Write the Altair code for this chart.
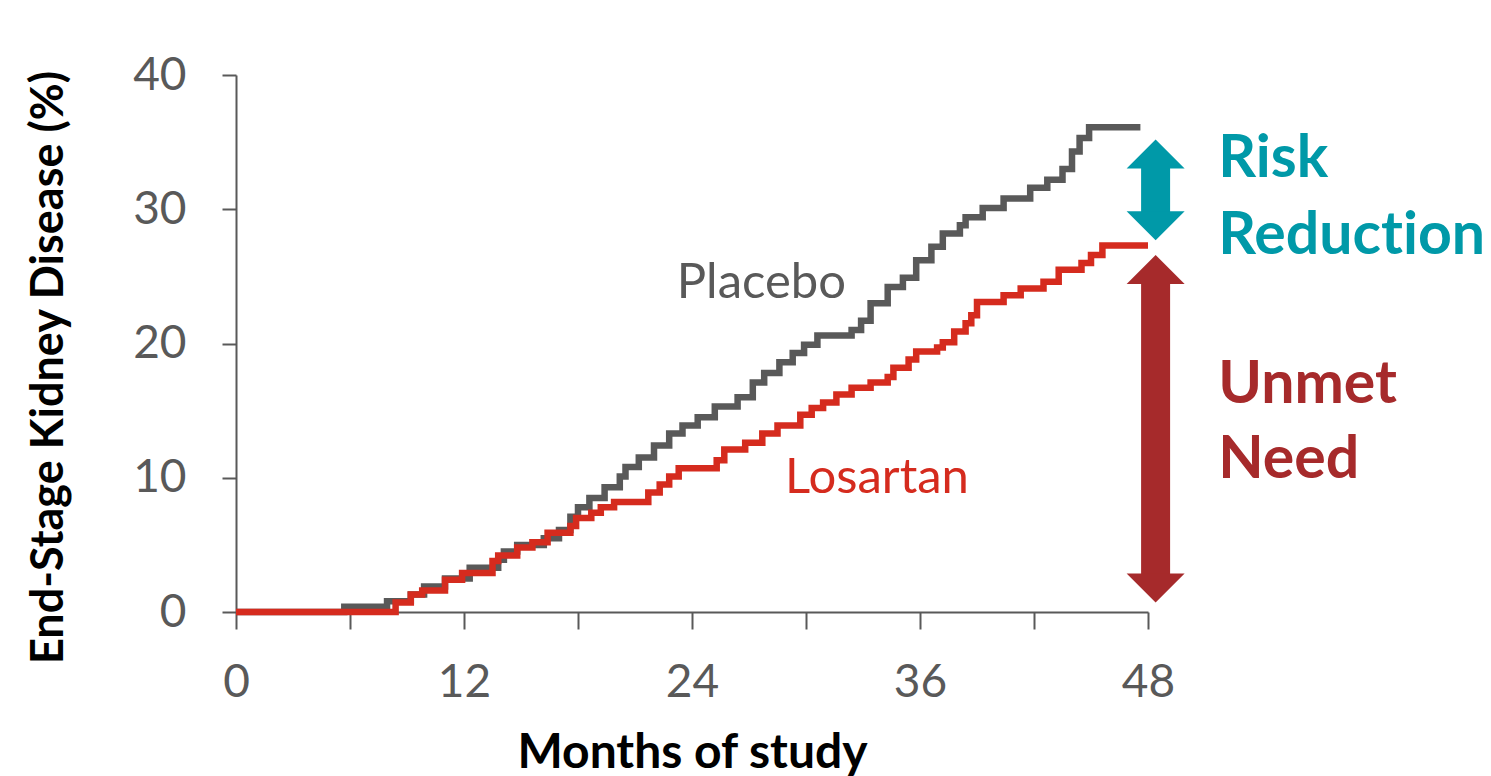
import altair as alt
import pandas as pd

# Cumulative incidence of end-stage kidney disease, step change points
placebo_month = [0, 5.7, 7.95, 9.2, 9.9, 11.0, 12.3, 13.8, 14.1, 14.8,
                 16.2, 17.0, 17.6, 18.0, 18.6, 19.4, 20.2, 20.5, 21.2, 22.0,
                 22.8, 23.5, 24.3, 25.2, 26.4, 27.2, 27.8, 28.6, 29.3, 29.9,
                 30.6, 32.4, 32.9, 33.4, 34.3, 35.1, 35.8, 36.6, 37.2, 38.1,
                 38.4, 39.3, 40.4, 41.8, 42.7, 43.5, 44.0, 44.4, 44.9, 47.6]
placebo_pct = [0, 0.4, 0.8, 1.3, 1.9, 2.5, 3.3, 3.9, 4.5, 5.0,
               5.5, 6.1, 7.1, 7.8, 8.5, 9.3, 10.1, 10.8, 11.5, 12.4,
               13.3, 13.9, 14.5, 15.3, 16.0, 17.1, 17.8, 18.6, 19.3, 19.9,
               20.6, 21.0, 21.7, 23.0, 24.2, 24.9, 26.2, 27.2, 28.2, 28.8,
               29.4, 30.1, 30.8, 31.6, 32.2, 33.0, 34.3, 35.3, 36.1, 36.1]

losartan_month = [0, 8.4, 9.2, 9.8, 11.0, 11.9, 13.5, 13.8, 14.8, 15.6,
                  16.4, 17.6, 17.9, 18.7, 19.2, 19.9, 21.7, 22.3, 22.8, 23.3,
                  25.3, 25.7, 26.8, 27.7, 28.5, 29.7, 30.3, 30.9, 31.6, 32.4,
                  33.4, 34.3, 34.6, 35.4, 35.8, 36.9, 37.2, 37.8, 38.4, 38.7,
                  39.0, 40.4, 41.3, 42.5, 43.3, 44.5, 45.0, 45.6, 48.0]
losartan_pct = [0, 0.7, 1.3, 1.6, 2.4, 2.9, 3.8, 4.2, 4.8, 5.2,
                5.9, 6.4, 7.0, 7.4, 7.8, 8.2, 8.9, 9.5, 10.1, 10.7,
                11.3, 12.1, 12.6, 13.3, 13.9, 14.7, 15.2, 15.6, 16.2, 16.7,
                17.1, 17.5, 18.2, 18.8, 19.4, 19.7, 20.1, 20.9, 21.5, 22.1,
                23.1, 23.6, 24.1, 24.6, 25.5, 26.0, 26.6, 27.3, 27.3]

# Curve labels
curve_names = ["Placebo", "Losartan"]
curve_label_month = [23.2, 28.9]
curve_label_pct = [23.4, 8.9]

# Double-headed arrows at the end of follow-up
arrow_names = ["Risk Reduction", "Unmet Need"]
arrow_month = [48.4, 48.4]
arrow_top = [35.2, 26.6]
arrow_bottom = [27.7, 0.7]

# Text beside the arrows (ZWNJ keeps "t" and "i" from fusing into a ligature)
side_text = ["Risk", "Reduct\u200cion", "Unmet", "Need"]
side_month = [51.7, 51.7, 51.7, 51.7]
side_pct = [32.4, 26.7, 15.6, 10.0]

GRAY = "#595959"
RED = "#D52B1E"
TEAL = "#0099A8"
DARKRED = "#A62A2B"
FONT = "Lato"

placebo_df = pd.DataFrame({"month": placebo_month, "pct": placebo_pct})
losartan_df = pd.DataFrame({"month": losartan_month, "pct": losartan_pct})
labels_df = pd.DataFrame({"name": curve_names, "month": curve_label_month,
                          "pct": curve_label_pct, "color": [GRAY, RED]})
arrows_df = pd.DataFrame({"name": arrow_names, "month": arrow_month,
                          "top": arrow_top, "bottom": arrow_bottom,
                          "color": [TEAL, DARKRED]})
side_df = pd.DataFrame({"text": side_text, "month": side_month, "pct": side_pct,
                        "color": [TEAL, TEAL, DARKRED, DARKRED]})

x_axis = alt.Axis(
    values=list(range(0, 49, 6)),
    labelExpr="datum.value % 12 == 0 ? datum.label : ''",
    labelFlush=False,
    title="Months of study",
    tickSize=17,
    labelPadding=31,
    titleX=456,
    titleY=155,
    titleBaseline="alphabetic",
    titleAlign="center",
    titleFontSize=48,
)
y_axis = alt.Axis(
    values=[0, 10, 20, 30, 40],
    labelFlush=False,
    title="End-Stage Kidney Disease (%)",
    tickSize=14,
    labelPadding=36,
    titleAngle=270,
    titleX=-174,
    titleY=292,
    titleBaseline="alphabetic",
    titleAlign="center",
    titleFontSize=45,
)

xs = alt.Scale(domain=[0, 48], nice=False)
ys = alt.Scale(domain=[0, 40], nice=False)


def X(field):
    return alt.X(field, scale=xs, axis=x_axis)


def Y(field):
    return alt.Y(field, scale=ys, axis=y_axis)


placebo_line = alt.Chart(placebo_df).mark_line(
    interpolate="step-after", strokeWidth=6.5, color=GRAY
).encode(x=X("month:Q"), y=Y("pct:Q"))

losartan_line = alt.Chart(losartan_df).mark_line(
    interpolate="step-after", strokeWidth=6.5, color=RED
).encode(x=X("month:Q"), y=Y("pct:Q"))

curve_labels = alt.Chart(labels_df).mark_text(
    align="left", baseline="alphabetic", font=FONT, fontSize=49
).encode(
    x=X("month:Q"),
    y=Y("pct:Q"),
    text="name:N",
    color=alt.Color("color:N", scale=None),
)

HEAD = 29  # arrowhead height in px
shafts = alt.Chart(arrows_df).mark_rule(
    strokeWidth=29, strokeCap="butt", yOffset=HEAD - 1, y2Offset=-(HEAD - 1)
).encode(
    x=X("month:Q"),
    y=Y("top:Q"),
    y2="bottom:Q",
    color=alt.Color("color:N", scale=None),
)
heads_up = alt.Chart(arrows_df).mark_point(
    shape="M0,0L1,1L-1,1Z", size=(2 * HEAD) ** 2, filled=True, opacity=1, strokeWidth=0
).encode(x=X("month:Q"), y=Y("top:Q"), color=alt.Color("color:N", scale=None))
heads_down = alt.Chart(arrows_df).mark_point(
    shape="M0,0L1,-1L-1,-1Z", size=(2 * HEAD) ** 2, filled=True, opacity=1, strokeWidth=0
).encode(x=X("month:Q"), y=Y("bottom:Q"), color=alt.Color("color:N", scale=None))

side_labels = alt.Chart(side_df).mark_text(
    align="left", baseline="alphabetic", font=FONT, fontSize=59, fontWeight="bold"
).encode(
    x=X("month:Q"),
    y=Y("pct:Q"),
    text="text:N",
    color=alt.Color("color:N", scale=None),
)

chart = alt.layer(
    placebo_line, losartan_line, curve_labels, shafts, heads_up, heads_down, side_labels
).properties(
    width=912,
    height=537,
    autosize=alt.AutoSizeParams(type="none"),
    padding={"left": 236, "top": 75, "right": 343, "bottom": 164},
    background="white",
).configure_view(
    stroke=None
).configure_axis(
    grid=False,
    domainColor=GRAY,
    domainWidth=2,
    tickColor=GRAY,
    tickWidth=2,
    labelColor=GRAY,
    labelFont=FONT,
    labelFontSize=46,
    titleFont=FONT,
    titleFontWeight="bold",
    titleColor="black",
)

chart.save("out.html", embed_options={"renderer": "svg", "actions": False})
